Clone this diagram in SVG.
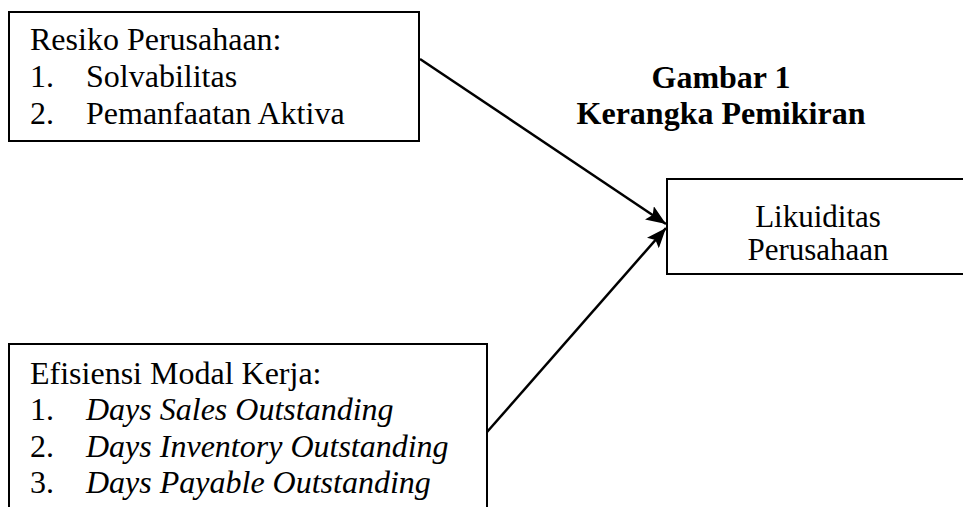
<svg xmlns="http://www.w3.org/2000/svg" width="963" height="507" viewBox="0 0 963 507">
<style>
.box{fill:#fff;stroke:#000;stroke-width:2}
.t{font-family:"Liberation Serif","Times New Roman",serif;font-size:32px;fill:#000}
.i{font-style:italic}
.b{font-weight:bold;font-size:32px}
.r{font-size:31px}
.c{text-anchor:middle}
.ln{stroke:#000;stroke-width:2.5;fill:none}
</style>
<defs>
<marker id="arr" viewBox="0 0 20 16" refX="20" refY="8" markerWidth="20" markerHeight="16" markerUnits="userSpaceOnUse" orient="auto">
<path d="M0,0 L20,8 L0,16 L4,8 Z" fill="#000"/>
</marker>
</defs>
<g id="title">
<text class="t b c" x="721" y="88">Gambar 1</text>
<text class="t b c" x="721" y="124">Kerangka Pemikiran</text>
</g>
<g id="resiko">
<rect class="box" x="9" y="12" width="410" height="129"/>
<text class="t" x="30" y="50">Resiko Perusahaan:</text>
<text class="t" x="30" y="87">1.</text><text class="t" x="86" y="87">Solvabilitas</text>
<text class="t" x="30" y="124">2.</text><text class="t" x="86" y="124">Pemanfaatan Aktiva</text>
</g>
<g id="efisiensi">
<rect class="box" x="9" y="344" width="478" height="180"/>
<text class="t" x="30" y="384">Efisiensi Modal Kerja:</text>
<text class="t" x="30" y="420">1.</text><text class="t i" x="86" y="420">Days Sales Outstanding</text>
<text class="t" x="30" y="457">2.</text><text class="t i" x="86" y="457">Days Inventory Outstanding</text>
<text class="t" x="30" y="493">3.</text><text class="t i" x="86" y="493">Days Payable Outstanding</text>
</g>
<g id="likuiditas">
<rect class="box" x="667" y="179" width="310" height="95"/>
<text class="t r c" x="818" y="227">Likuiditas</text>
<text class="t r c" x="818" y="260">Perusahaan</text>
</g>
<g id="connectors">
<line class="ln" x1="420" y1="59" x2="666" y2="224" marker-end="url(#arr)"/>
<line class="ln" x1="487" y1="432" x2="666" y2="228" marker-end="url(#arr)"/>
</g>
</svg>
